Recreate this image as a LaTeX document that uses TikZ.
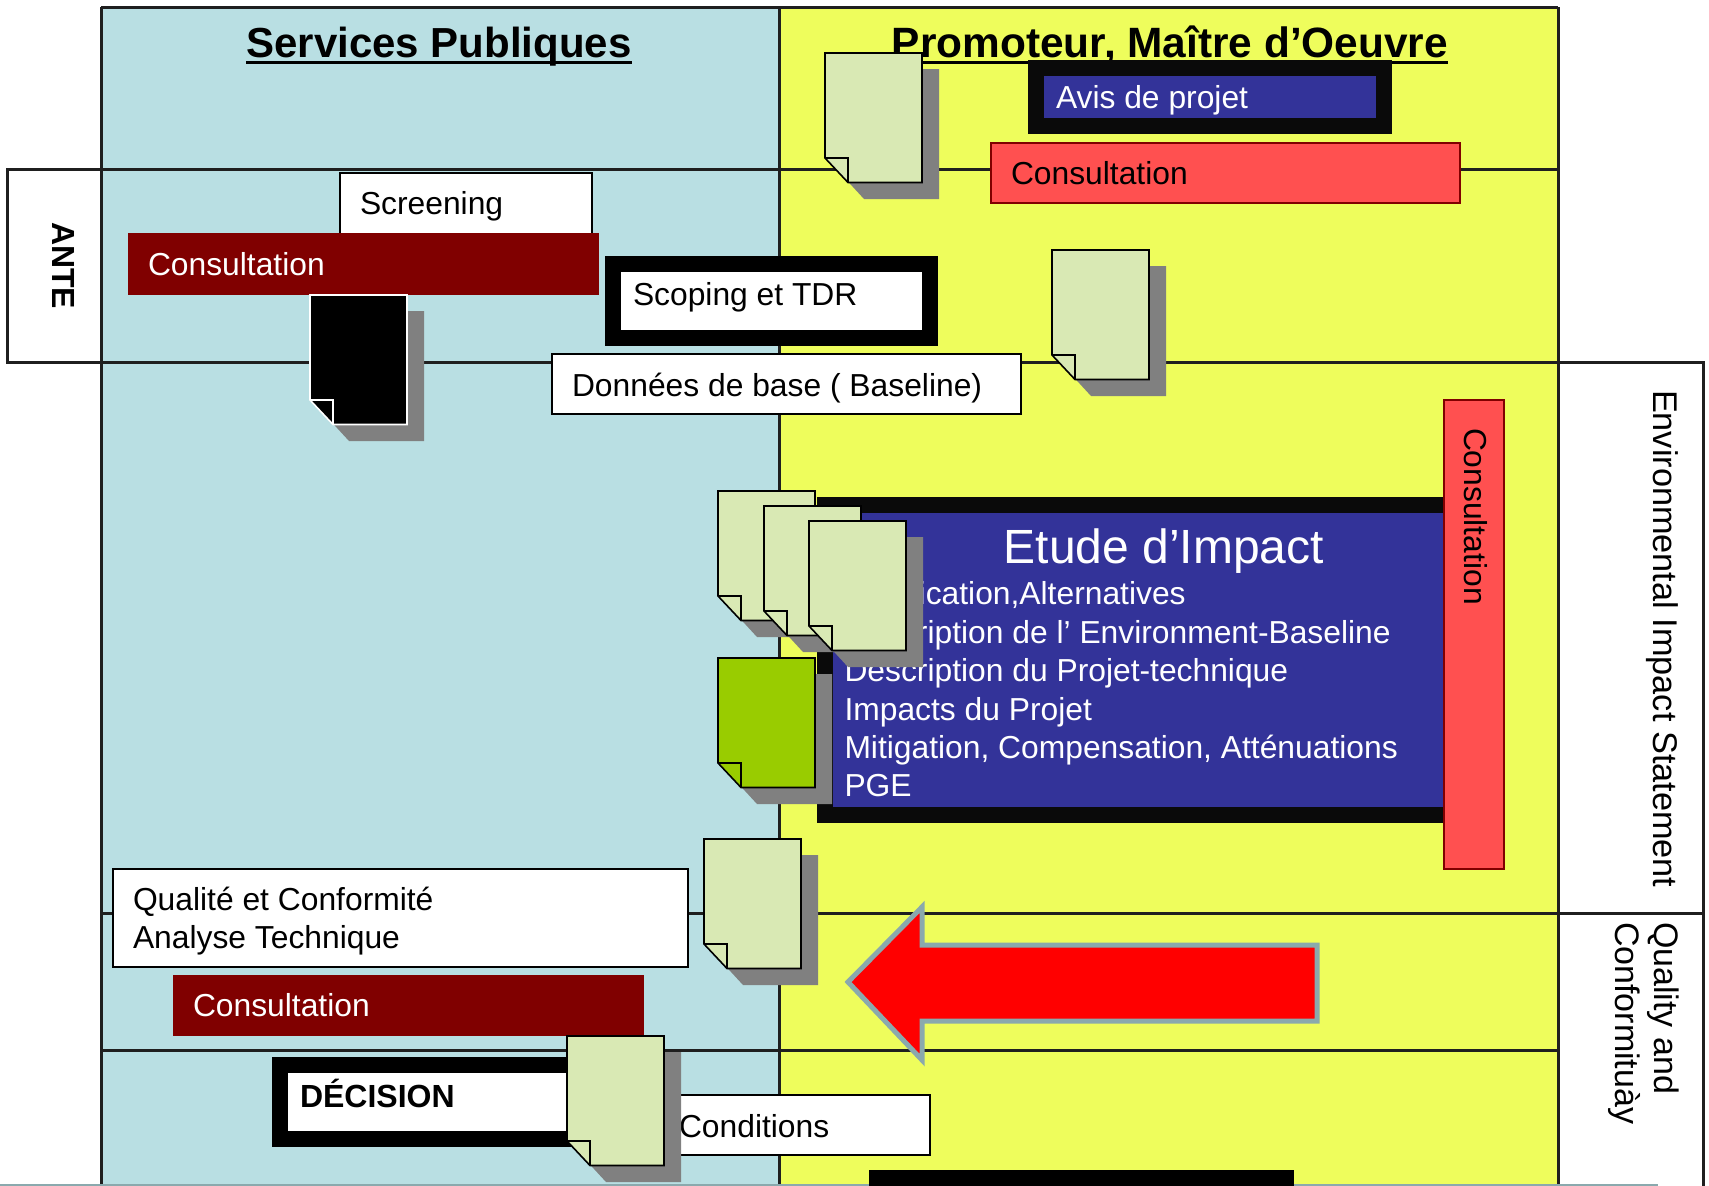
\documentclass[tikz,border=0pt]{standalone}
\usepackage{fontspec}
\setmainfont{Liberation Sans}
\definecolor{panelblue}{HTML}{B9DFE3}
\definecolor{panelyellow}{HTML}{EEFD5C}
\definecolor{navy}{HTML}{333399}
\definecolor{noir}{HTML}{0A0A0A}
\definecolor{maroon}{HTML}{800000}
\definecolor{salmon}{HTML}{FF5050}
\definecolor{notegreen}{HTML}{D9E9B4}
\definecolor{notelime}{HTML}{99CC00}
\definecolor{shadowgray}{HTML}{808080}
\definecolor{arrowedge}{HTML}{8AA9AD}
\tikzset{
  gridline/.style={draw=black!88,line width=3pt},
  whitebox/.style={fill=white,draw=black,line width=1.6pt},
  framebox/.style={fill=white,draw=black,line width=16pt},
  navybox/.style={fill=navy,draw=noir,line width=16pt},
  darkbox/.style={fill=maroon,draw=maroon,line width=1pt},
  redbox/.style={fill=salmon,draw=maroon,line width=1.6pt},
  label/.style={inner sep=0pt,outer sep=0pt,anchor=base west,font=\fontsize{31.8}{38}\selectfont},
  white label/.style={label,text=white},
  sidelabel/.style={label,rotate=-90},
  heading/.style={inner sep=0pt,outer sep=0pt,anchor=base,font=\fontsize{42}{48}\bfseries\selectfont},
}
% name, x, y, fill, line colour
\newcommand{\docnote}[5]{%
  \coordinate (#1) at (#2,#3);
  \begin{scope}[shift={(#2,#3)}]
    \fill[shadowgray] (16,16) -- (114,16) -- (114,146) -- (39,146) -- (16,121) -- cycle;
    \draw[fill=#4,draw=#5,line width=1.6pt,line join=miter]
      (0,0) -- (97,0) -- (97,129.5) -- (23,129.5) -- (0,105) -- cycle;
    \draw[draw=#5,line width=1.6pt] (0,105) -- (23,105) -- (23,129.5);
  \end{scope}}
\begin{document}
\begin{tikzpicture}[x=1pt,y=-1pt]
\useasboundingbox (0,0) rectangle (1709,1186);
\fill[white] (0,0) rectangle (1709,1186);
\begin{scope}
\clip (0,0) rectangle (1709,1186);
% panels
\fill[panelblue] (101,7) rectangle (779,1186);
\fill[panelyellow] (779,7) rectangle (1558,1186);
\draw[gridline,fill=white] (7,169) rectangle (101,362);
\draw[gridline,fill=white] (1558,362) rectangle (1703,913);
\draw[gridline] (1703,913) -- (1703,1186);
\draw[gridline] (101,7) -- (1558,7);
\draw[gridline] (101,7) -- (101,1186);
\draw[gridline] (779,7) -- (779,1186);
\draw[gridline] (1558,7) -- (1558,1186);
\draw[gridline] (101,169) -- (1558,169);
\draw[gridline] (101,362) -- (1558,362);
\draw[gridline] (101,913) -- (1703,913);
\draw[gridline] (101,1050) -- (1558,1050);
\draw[arrowedge,line width=2pt] (0,1185) -- (1658,1185);
% headings
\node[heading] (services) at (439,57) {Services Publiques};
\draw[line width=3pt] ([yshift=-5pt]services.base west) -- ([yshift=-5pt]services.base east);
\node[heading,font=\fontsize{42.4}{48}\bfseries\selectfont] (promoteur) at (1170,57) {Promoteur, Maître d’Oeuvre};
\draw[line width=3pt] ([yshift=-5pt]promoteur.base west) -- ([yshift=-5pt]promoteur.base east);
% side labels
\node[sidelabel,font=\fontsize{32}{38}\bfseries\selectfont] (ante) at (52,222) {ANTE};
\node[sidelabel,font=\fontsize{34.3}{40}\selectfont] (eis) at (1653,390) {Environmental Impact Statement};
\node[sidelabel,font=\fontsize{34}{40}\selectfont] (quality) at (1654,922) {Quality and};
\node[sidelabel,font=\fontsize{34}{40}\selectfont] (conform) at (1615,922) {Conformituày};
% top right
\draw[navybox] (1036,68) rectangle (1384,126);
\node[white label] (avis) at (1056,108) {Avis de projet};
\draw[redbox] (991,143) rectangle (1460,203);
\node[label] (consA) at (1011,184) {Consultation};
\docnote{noteA}{825}{53}{notegreen}{black}
% ante phase
\draw[whitebox] (340,173) rectangle (592,240);
\node[label] (screening) at (360,214) {Screening};
\draw[darkbox] (128,233) rectangle (598,294);
\node[white label] (consB) at (148,275) {Consultation};
\docnote{noteB}{310}{295}{black}{white}
\draw[framebox] (613,264) rectangle (930,338);
\node[label] (scoping) at (633,305) {Scoping et TDR};
\draw[whitebox] (552,354) rectangle (1021,414);
\node[label] (donnees) at (572,396) {Données de base ( Baseline)};
\docnote{noteC}{1052}{250}{notegreen}{black}
% etude
\draw[navybox] (825,505) rectangle (1470,815);
\node[white label,font=\fontsize{48}{56}\selectfont,anchor=base] (etude) at (1164,563) {Etude d’Impact};
\node[white label] (l1) at (844.5,604) {Justification,Alternatives};
\node[white label] (l2) at (844.5,643) {Description de l’ Environment-Baseline};
\node[white label] (l3) at (844.5,681) {Description du Projet-technique};
\node[white label] (l4) at (844.5,720) {Impacts du Projet};
\node[white label] (l5) at (844.5,758) {Mitigation, Compensation, Atténuations};
\node[white label] (l6) at (844.5,796) {PGE};
\draw[redbox] (1444,400) rectangle (1504,869);
\node[sidelabel] (consC) at (1464,428) {Consultation};
\docnote{noteD}{718}{491}{notegreen}{black}
\docnote{noteE}{764}{506}{notegreen}{black}
\docnote{noteF}{809}{521}{notegreen}{black}
\docnote{noteG}{718}{658}{notelime}{black}
% quality
\draw[whitebox] (113,869) rectangle (688,967);
\node[label] (qual1) at (133,910) {Qualité et Conformité};
\node[label] (qual2) at (133,948) {Analyse Technique};
\draw[darkbox] (173,975) rectangle (643,1035);
\node[white label] (consD) at (193,1016) {Consultation};
\docnote{noteH}{704}{839}{notegreen}{black}
\draw[fill=red,draw=arrowedge,line width=5pt,line join=miter]
  (848,982) -- (922,907) -- (922,945) -- (1317,945) -- (1317,1021) -- (922,1021) -- (922,1060) -- cycle;
% decision
\draw[framebox] (280,1065) rectangle (600,1139);
\node[label,font=\fontsize{32}{38}\bfseries\selectfont] (decision) at (300,1107) {DÉCISION};
\draw[whitebox] (640,1095) rectangle (930,1155);
\node[label] (conditions) at (679,1137) {Conditions};
\docnote{noteI}{567}{1036}{notegreen}{black}
\fill[black] (869,1170) rectangle (1294,1190);
\end{scope}
\end{tikzpicture}
\end{document}
